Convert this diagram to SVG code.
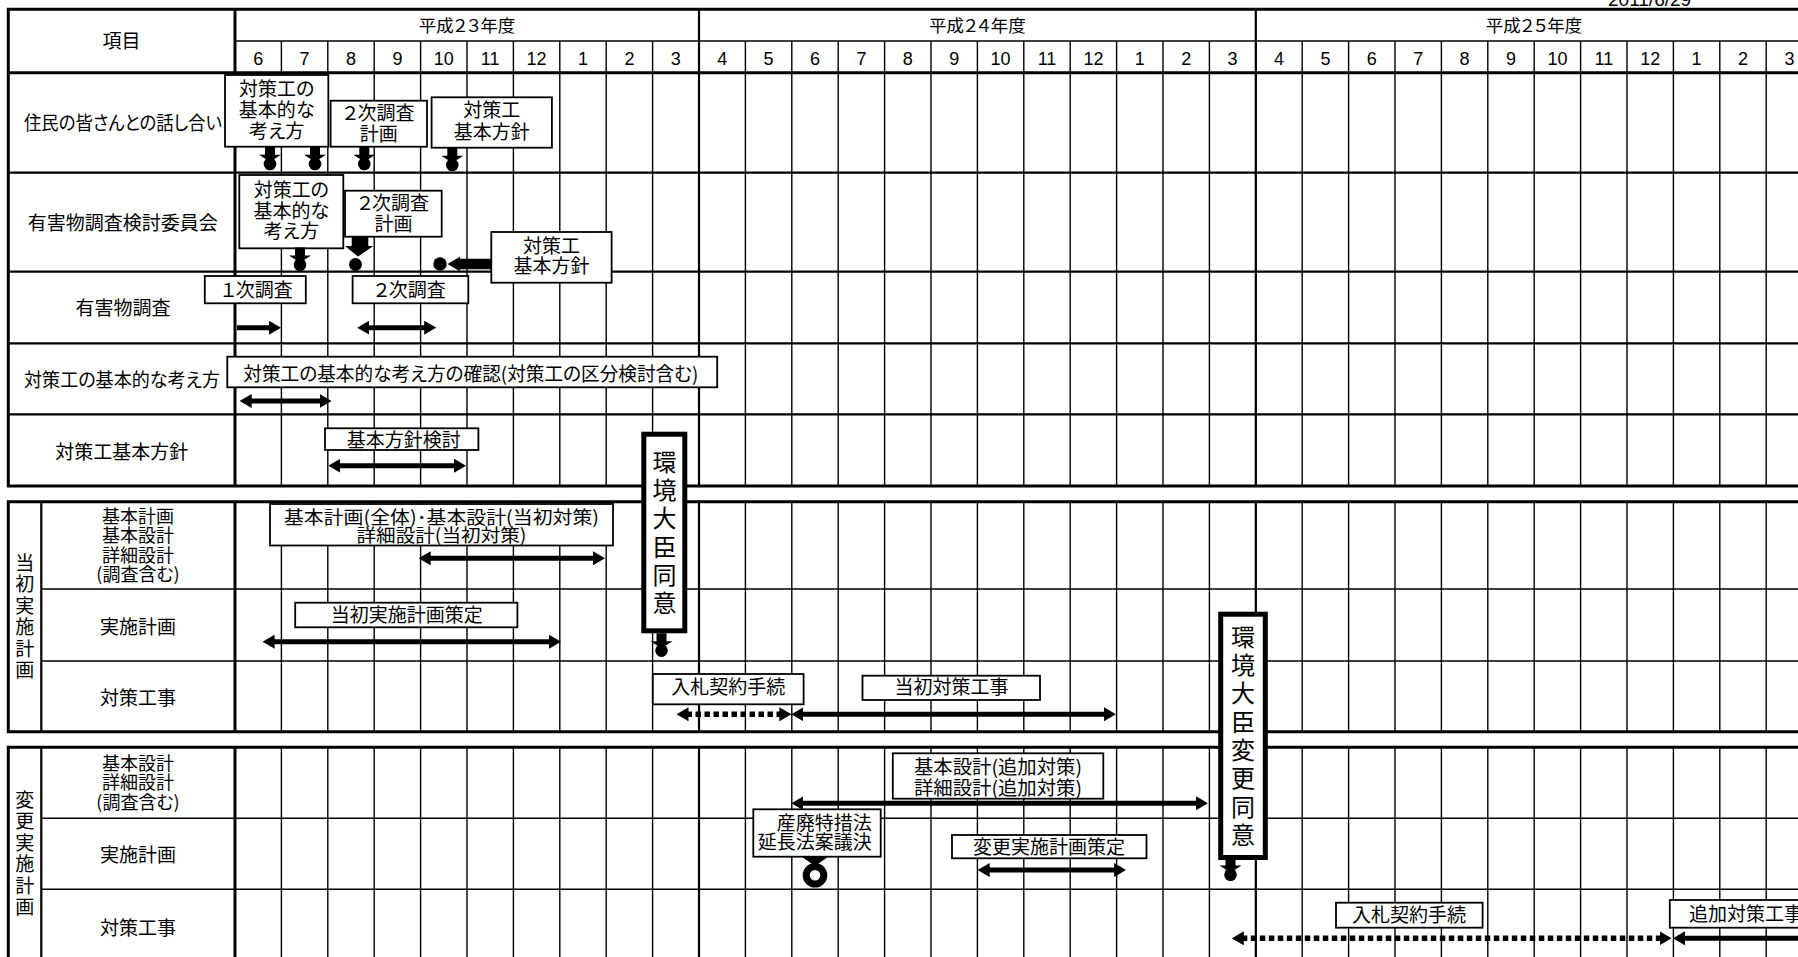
<svg xmlns="http://www.w3.org/2000/svg" xmlns:xlink="http://www.w3.org/1999/xlink" width="1798" height="957" viewBox="0 0 1798 957">
<style>
.t{font-family:"Noto Sans CJK JP","Noto Sans",sans-serif;font-size:19px;font-feature-settings:"palt";fill:#000}
.s{font-size:18px}
.c{text-anchor:middle}
.e{text-anchor:end}
.n{font-family:"Liberation Sans",Arial,sans-serif;font-size:18px;text-anchor:middle;fill:#000}
.k{font-family:"Noto Sans CJK JP","Noto Sans",sans-serif;font-size:24px;text-anchor:middle;fill:#000}
.bx{fill:#fff;stroke:#000;stroke-width:1.8}
.kb{fill:#fff;stroke:#000;stroke-width:5}
.th{stroke:#000;stroke-width:3;fill:none}
.md{stroke:#000;stroke-width:2.2;fill:none}
.tn{stroke:#000;stroke-width:1.4;fill:none}
.ar{stroke:#000;stroke-width:5;fill:none;marker-start:url(#ah);marker-end:url(#ah)}
.ad{stroke:#000;stroke-width:5.5;stroke-dasharray:5.5 3.5;fill:none;marker-start:url(#ah);marker-end:url(#ah)}
</style>
<defs>
<marker id="ah" viewBox="0 0 12 14" markerWidth="12" markerHeight="14" refX="2" refY="7" markerUnits="userSpaceOnUse" orient="auto-start-reverse"><path d="M0 0L12 7L0 14Z" fill="#000"/></marker>
<g id="ms" fill="#000"><rect x="-5" y="0" width="10" height="9"/><path d="M-11 8H11L0 15Z"/><circle cx="0" cy="17.3" r="6.3"/></g>
</defs>
<rect width="1798" height="957" fill="#fff"/>
<text x="1608" y="6" font-family="Liberation Sans, Arial, sans-serif" font-size="19">2011/6/29</text>

<g id="grid">
<path class="tn" d="M281.4 41v445m46.4 -445v445m46.4 -445v445m46.4 -445v445m46.4 -445v445m46.4 -445v445m46.4 -445v445m46.4 -445v445m46.4 -445v445m46.4 -445v445m46.4 -445v445m46.4 -445v445m46.4 -445v445m46.4 -445v445m46.4 -445v445m46.4 -445v445m46.4 -445v445m46.4 -445v445m46.4 -445v445m46.4 -445v445m46.4 -445v445m46.4 -445v445m46.4 -445v445m46.4 -445v445m46.4 -445v445m46.4 -445v445m46.4 -445v445m46.4 -445v445m46.4 -445v445m46.4 -445v445m46.4 -445v445m46.4 -445v445m46.4 -445v445"/>
<path class="tn" d="M235 41H1820"/>
<path class="md" d="M8.3 172.7H1820M8.3 271.7H1820M8.3 343.3H1820M8.3 414.3H1820"/>
<path class="md" d="M699 9.3V486M1255.8 9.3V486"/>
<path class="th" d="M1820 9.3H8.3V486H1820M8.3 72.7H1820M235 9.3V486"/>
<path class="tn" d="M281.4 501.7v230m46.4 -230v230m46.4 -230v230m46.4 -230v230m46.4 -230v230m46.4 -230v230m46.4 -230v230m46.4 -230v230m46.4 -230v230m46.4 -230v230m46.4 -230v230m46.4 -230v230m46.4 -230v230m46.4 -230v230m46.4 -230v230m46.4 -230v230m46.4 -230v230m46.4 -230v230m46.4 -230v230m46.4 -230v230m46.4 -230v230m46.4 -230v230m46.4 -230v230m46.4 -230v230m46.4 -230v230m46.4 -230v230m46.4 -230v230m46.4 -230v230m46.4 -230v230m46.4 -230v230m46.4 -230v230m46.4 -230v230m46.4 -230v230"/>
<path class="tn" d="M41.3 589H1820M41.3 661H1820"/>
<path class="md" d="M699 501.7V731.7M1255.8 501.7V731.7M41.3 501.7V731.7"/>
<path class="th" d="M1820 501.7H8.3V731.7H1820M235 501.7V731.7"/>
<path class="tn" d="M281.4 747.3v215m46.4 -215v215m46.4 -215v215m46.4 -215v215m46.4 -215v215m46.4 -215v215m46.4 -215v215m46.4 -215v215m46.4 -215v215m46.4 -215v215m46.4 -215v215m46.4 -215v215m46.4 -215v215m46.4 -215v215m46.4 -215v215m46.4 -215v215m46.4 -215v215m46.4 -215v215m46.4 -215v215m46.4 -215v215m46.4 -215v215m46.4 -215v215m46.4 -215v215m46.4 -215v215m46.4 -215v215m46.4 -215v215m46.4 -215v215m46.4 -215v215m46.4 -215v215m46.4 -215v215m46.4 -215v215m46.4 -215v215m46.4 -215v215"/>
<path class="tn" d="M41.3 818.3H1820M41.3 889.3H1820"/>
<path class="md" d="M699 747.3V962M1255.8 747.3V962M41.3 747.3V962"/>
<path class="th" d="M1820 747.3H8.3V962M235 747.3V962"/>
</g>

<g id="header">
<text class="t c" x="121.6" y="47.5">項目</text>
<text class="t c" x="467" y="31.5" style="font-size:17.5px">平成２３年度</text>
<text class="t c" x="977.4" y="31.5" style="font-size:17.5px">平成２４年度</text>
<text class="t c" x="1534" y="31.5" style="font-size:17.5px">平成２５年度</text>
<g class="n">
<text x="258.2" y="65">6</text><text x="304.6" y="65">7</text><text x="351" y="65">8</text><text x="397.4" y="65">9</text><text x="443.8" y="65">10</text><text x="490.2" y="65">11</text><text x="536.6" y="65">12</text><text x="583" y="65">1</text><text x="629.4" y="65">2</text><text x="675.8" y="65">3</text>
<text x="722.2" y="65">4</text><text x="768.6" y="65">5</text><text x="815" y="65">6</text><text x="861.4" y="65">7</text><text x="907.8" y="65">8</text><text x="954.2" y="65">9</text><text x="1000.6" y="65">10</text><text x="1047" y="65">11</text><text x="1093.4" y="65">12</text><text x="1139.8" y="65">1</text><text x="1186.2" y="65">2</text><text x="1232.6" y="65">3</text>
<text x="1279" y="65">4</text><text x="1325.4" y="65">5</text><text x="1371.8" y="65">6</text><text x="1418.2" y="65">7</text><text x="1464.6" y="65">8</text><text x="1511" y="65">9</text><text x="1557.4" y="65">10</text><text x="1603.8" y="65">11</text><text x="1650.2" y="65">12</text><text x="1696.6" y="65">1</text><text x="1743" y="65">2</text><text x="1789.4" y="65">3</text>
</g>
</g>

<g id="row-labels">
<text class="t c" x="123" y="130" textLength="198" lengthAdjust="spacingAndGlyphs">住民の皆さんとの話し合い</text>
<text class="t c" x="122.7" y="229.7">有害物調査検討委員会</text>
<text class="t c" x="123" y="315.3">有害物調査</text>
<text class="t c" x="122" y="387" textLength="196" lengthAdjust="spacingAndGlyphs">対策工の基本的な考え方</text>
<text class="t c" x="121.7" y="458.7">対策工基本方針</text>
<text class="t c"><tspan x="24.8" y="569.5">当</tspan><tspan x="24.8" y="591">初</tspan><tspan x="24.8" y="612.5">実</tspan><tspan x="24.8" y="634">施</tspan><tspan x="24.8" y="655.5">計</tspan><tspan x="24.8" y="677">画</tspan></text>
<text class="t c s"><tspan x="138" y="522.5">基本計画</tspan><tspan x="138" y="542">基本設計</tspan><tspan x="138" y="561.5">詳細設計</tspan><tspan x="138" y="581">(調査含む)</tspan></text>
<text class="t c" x="138" y="633.7">実施計画</text>
<text class="t c" x="138" y="705.3">対策工事</text>
<text class="t c"><tspan x="24.8" y="806.5">変</tspan><tspan x="24.8" y="828">更</tspan><tspan x="24.8" y="849.5">実</tspan><tspan x="24.8" y="871">施</tspan><tspan x="24.8" y="892.5">計</tspan><tspan x="24.8" y="914">画</tspan></text>
<text class="t c s"><tspan x="138" y="769.8">基本設計</tspan><tspan x="138" y="789.3">詳細設計</tspan><tspan x="138" y="808.8">(調査含む)</tspan></text>
<text class="t c" x="138" y="862">実施計画</text>
<text class="t c" x="138" y="935.3">対策工事</text>
</g>

<g id="box-juumin-kangaekata">
<rect class="bx" x="225" y="75" width="103.3" height="71.7"/>
<text class="t c"><tspan x="276.7" y="96">対策工の</tspan><tspan x="276.7" y="117">基本的な</tspan><tspan x="276.7" y="138">考え方</tspan></text>
</g>
<g id="box-juumin-2ji">
<rect class="bx" x="330.6" y="100.7" width="96.4" height="46"/>
<text class="t c"><tspan x="378.8" y="120">２次調査</tspan><tspan x="378.8" y="141">計画</tspan></text>
</g>
<g id="box-juumin-houshin">
<rect class="bx" x="431.6" y="97.3" width="120.3" height="50.4"/>
<text class="t c"><tspan x="491.8" y="117">対策工</tspan><tspan x="491.8" y="138.5">基本方針</tspan></text>
</g>
<g id="box-iinkai-kangaekata">
<rect class="bx" x="239.3" y="175" width="104" height="73.3"/>
<text class="t c"><tspan x="291.3" y="196.5">対策工の</tspan><tspan x="291.3" y="217.5">基本的な</tspan><tspan x="291.3" y="238">考え方</tspan></text>
</g>
<g id="box-iinkai-2ji">
<rect class="bx" x="345" y="190.7" width="96.7" height="46"/>
<text class="t c"><tspan x="393.4" y="210">２次調査</tspan><tspan x="393.4" y="230.5">計画</tspan></text>
</g>
<g id="box-iinkai-houshin">
<rect class="bx" x="491.3" y="232" width="120.3" height="50.7"/>
<text class="t c"><tspan x="551.5" y="252.5">対策工</tspan><tspan x="551.5" y="273">基本方針</tspan></text>
</g>
<g id="box-1ji">
<rect class="bx" x="204.8" y="276" width="101" height="27.3"/>
<text class="t c" x="257" y="296.5">１次調査</text>
</g>
<g id="box-2ji">
<rect class="bx" x="352.6" y="276" width="115.7" height="27.3"/>
<text class="t c" x="410" y="296.5">２次調査</text>
</g>
<g id="box-kakunin">
<rect class="bx" x="227.3" y="356.7" width="489.9" height="30.6"/>
<text class="t" x="243.3" y="381" textLength="455" lengthAdjust="spacingAndGlyphs">対策工の基本的な考え方の確認(対策工の区分検討含む)</text>
</g>
<g id="box-houshin-kentou">
<rect class="bx" x="325" y="428.3" width="153.4" height="21.7"/>
<text class="t c" x="403.7" y="446.5">基本方針検討</text>
</g>
<g id="box-kihon-keikaku">
<rect class="bx" x="270" y="504" width="343" height="41.5"/>
<text class="t c s"><tspan x="441.5" y="523.5" textLength="315" lengthAdjust="spacingAndGlyphs">基本計画(全体)･基本設計(当初対策)</tspan></text>
<text class="t c s"><tspan x="441.5" y="541.5" textLength="170" lengthAdjust="spacingAndGlyphs">詳細設計(当初対策)</tspan></text>
</g>
<g id="box-tousho-jisshi">
<rect class="bx" x="295.2" y="602.7" width="222.2" height="24.6"/>
<text class="t c" x="406.8" y="622">当初実施計画策定</text>
</g>
<g id="box-nyusatsu-1">
<rect class="bx" x="652.8" y="674" width="150.8" height="30.3"/>
<text class="t c" x="728.2" y="693.5">入札契約手続</text>
</g>
<g id="box-tousho-koji">
<rect class="bx" x="862.5" y="675.7" width="177.5" height="24.3"/>
<text class="t c" x="951.5" y="694">当初対策工事</text>
</g>
<g id="box-tsuika-sekkei">
<rect class="bx" x="892.8" y="753.3" width="210.5" height="45.4"/>
<text class="t c"><tspan x="998" y="773.7" textLength="168" lengthAdjust="spacingAndGlyphs">基本設計(追加対策)</tspan></text>
<text class="t c"><tspan x="998" y="795.3" textLength="168" lengthAdjust="spacingAndGlyphs">詳細設計(追加対策)</tspan></text>
</g>
<g id="box-sanpai">
<rect class="bx" x="753.3" y="809.3" width="127.4" height="47.4"/>
<text class="t e"><tspan x="871.7" y="829.7">産廃特措法</tspan><tspan x="871.7" y="848.7">延長法案議決</tspan></text>
</g>
<g id="box-henkou-jisshi">
<rect class="bx" x="952" y="835" width="194.5" height="23.3"/>
<text class="t c" x="1049" y="854">変更実施計画策定</text>
</g>
<g id="box-nyusatsu-2">
<rect class="bx" x="1336" y="902.7" width="146.6" height="25"/>
<text class="t c" x="1409" y="921.5">入札契約手続</text>
</g>
<g id="box-tsuika-koji">
<rect class="bx" x="1669.8" y="900" width="170" height="27.7"/>
<text class="t" x="1689" y="920.5">追加対策工事</text>
</g>
<g id="box-kankyo-1">
<rect class="kb" x="643.8" y="434.2" width="41" height="196.6"/>
<text class="k"><tspan x="664.4" y="470.7">環</tspan><tspan x="664.4" y="499">境</tspan><tspan x="664.4" y="527.3">大</tspan><tspan x="664.4" y="555.6">臣</tspan><tspan x="664.4" y="583.9">同</tspan><tspan x="664.4" y="612.2">意</tspan></text>
</g>
<g id="box-kankyo-2">
<rect class="kb" x="1220.7" y="614.2" width="44.6" height="243.3"/>
<text class="k"><tspan x="1243" y="645.7">環</tspan><tspan x="1243" y="674">境</tspan><tspan x="1243" y="702.3">大</tspan><tspan x="1243" y="730.6">臣</tspan><tspan x="1243" y="758.9">変</tspan><tspan x="1243" y="787.2">更</tspan><tspan x="1243" y="815.5">同</tspan><tspan x="1243" y="843.8">意</tspan></text>
</g>

<g id="connectors">
<use href="#ms" x="270" y="146.7"/>
<use href="#ms" x="315" y="146.7"/>
<use href="#ms" x="364.3" y="146.7"/>
<use href="#ms" x="452.3" y="147.7"/>
<use href="#ms" x="300" y="247.5"/>
<use href="#ms" x="661.5" y="633.3"/>
<use href="#ms" x="1230.5" y="857.5"/>
<path d="M351.7 236.7H368.3V246H373.3L358 256.5L345 246H351.7Z" fill="#000"/>
<circle cx="355.5" cy="264.5" r="6.5" fill="#000"/>
<path d="M491.3 258.8H460V256.7L447.5 264L460 271.3V269.2H491.3Z" fill="#000"/>
<circle cx="440" cy="264" r="6.7" fill="#000"/>
<path d="M801.7 856.7H828.3L815 866Z" fill="#000"/>
<circle cx="815" cy="875.3" r="8.8" fill="none" stroke="#000" stroke-width="7"/>
<line x1="237" y1="327.7" x2="271" y2="327.7" stroke="#000" stroke-width="5" marker-end="url(#ah)"/>
<line class="ar" x1="367.2" y1="327.7" x2="426.2" y2="327.7"/>
<line class="ar" x1="249.7" y1="401" x2="321.5" y2="401"/>
<line class="ar" x1="338.3" y1="465.7" x2="456" y2="465.7"/>
<line class="ar" x1="428.7" y1="558.3" x2="595" y2="558.3"/>
<line class="ar" x1="272.6" y1="641.7" x2="551" y2="641.7"/>
<line class="ad" x1="686.5" y1="714.3" x2="781.4" y2="714.3"/>
<line class="ar" x1="801.4" y1="714.3" x2="1105.9" y2="714.3"/>
<line class="ar" x1="801.4" y1="803.3" x2="1197.9" y2="803.3"/>
<line class="ar" x1="987.7" y1="870" x2="1116.2" y2="870"/>
<line class="ad" x1="1241.8" y1="938.3" x2="1661.5" y2="938.3"/>
<line x1="1683" y1="938.3" x2="1830" y2="938.3" stroke="#000" stroke-width="5" marker-start="url(#ah)"/>
</g>
</svg>
